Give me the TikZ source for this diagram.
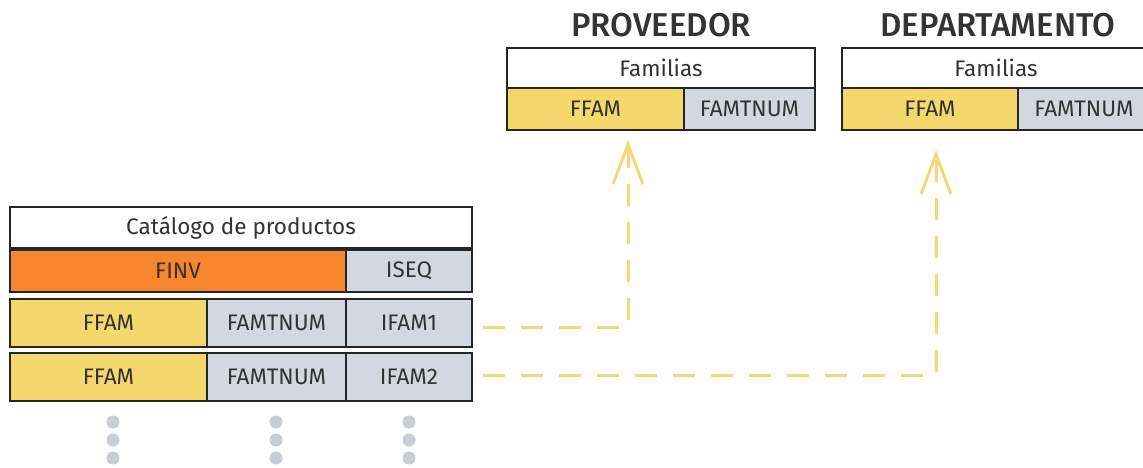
\documentclass[tikz,border=0pt]{standalone}
\usepackage{fontspec}
\setmainfont{Fira Sans}
\newfontfamily\headfont{Fira Sans}[UprightFont=* Medium]
\usepackage{xcolor}
\usetikzlibrary{arrows.meta}

\definecolor{cellline}{HTML}{262626}
\definecolor{celltext}{HTML}{333333}
\definecolor{cellorange}{HTML}{F7862E}
\definecolor{cellyellow}{HTML}{F5D86B}
\definecolor{cellgray}{HTML}{D3D7DF}
\definecolor{dotgray}{HTML}{C8CCD3}
\definecolor{linkyellow}{HTML}{F5D77A}

\begin{document}
\begin{tikzpicture}[
  x=1pt, y=-1pt,
  font=\fontsize{22.5}{26}\selectfont,
  cell/.style 2 args={draw=cellline, line width=2pt, inner sep=0pt, text=celltext,
    minimum width=#1, minimum height=#2},
  headline/.style={font=\headfont\fontsize{33}{36}\selectfont, text=celltext, inner sep=0pt},
  link/.style={draw=linkyellow, line width=3pt, dash pattern=on 22pt off 16pt,
    -{Straight Barb[length=40pt, width=30pt]}},
]
\useasboundingbox (0,0) rectangle (1143,468);
% left table
\node[cell={462}{41}, fill=white] (cat) at (241,227.5) {Catálogo de productos};
\node[cell={336}{42}, fill=cellorange] (finv) at (178,271) {FINV};
\node[cell={126}{42}, fill=cellgray] (iseq) at (409,271) {ISEQ};
\node[cell={197}{48}, fill=cellyellow] (ffamA) at (108.5,323) {FFAM};
\node[cell={139}{48}, fill=cellgray] (numA) at (276.5,323) {FAMTNUM};
\node[cell={126}{48}, fill=cellgray] (ifamA) at (409,323) {IFAM1};
\node[cell={197}{48}, fill=cellyellow] (ffamB) at (108.5,377) {FFAM};
\node[cell={139}{48}, fill=cellgray] (numB) at (276.5,377) {FAMTNUM};
\node[cell={126}{48}, fill=cellgray] (ifamB) at (409,377) {IFAM2};
\foreach \x in {113,276,409}
  \foreach \y in {422,440,458} \fill[dotgray] (\x,\y) circle[radius=6.5pt];
% proveedor
\node[headline] (hprov) at (661,25) {PROVEEDOR};
\node[cell={308}{40}, fill=white] (famP) at (661,68) {Familias};
\node[cell={177}{42}, fill=cellyellow] (ffamP) at (595.5,109) {FFAM};
\node[cell={131}{42}, fill=cellgray] (numP) at (749.5,109) {FAMTNUM};
% departamento
\node[headline] (hdep) at (998,25) {DEPARTAMENTO};
\node[cell={308}{40}, fill=white] (famD) at (996,68) {Familias};
\node[cell={176}{42}, fill=cellyellow] (ffamD) at (930,109) {FFAM};
\node[cell={132}{42}, fill=cellgray] (numD) at (1084,109) {FAMTNUM};
% links
\coordinate (tipP) at (628,140);
\coordinate (tipD) at (936,150);
\draw[link] ([shift={(10,4)}]ifamA.east) -| (tipP);
\draw[link] ([shift={(10,-2)}]ifamB.east) -| (tipD);
\end{tikzpicture}
\end{document}
